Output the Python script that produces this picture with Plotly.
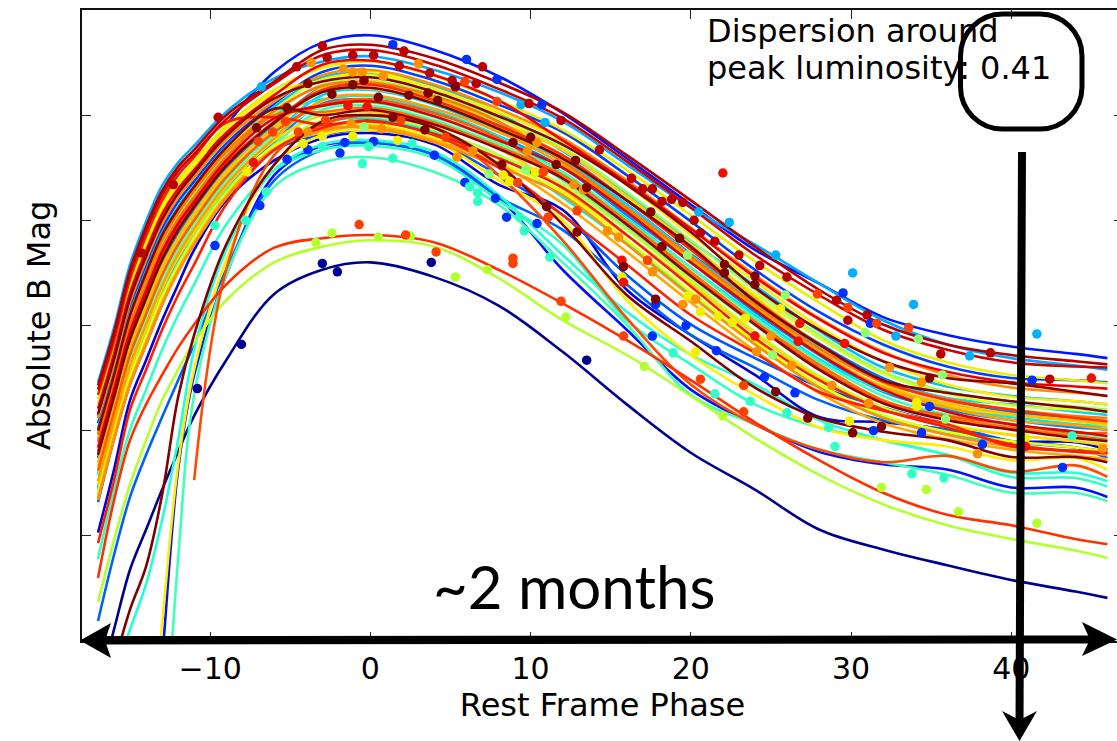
import plotly.graph_objects as go

PHASES = [-17, -16, -15, -14, -13, -12, -11, -9, -6, -3, 0, 4, 8, 12, 16, 20, 24, 28, 32, 36, 40, 44, 46]

NAVY = [-14.54, -15.11, -15.68, -16.06, -16.44, -16.80, -17.14, -17.67, -18.30, -18.53, -18.60, -18.46, -18.19, -17.75, -17.25, -16.79, -16.44, -16.06, -15.87, -15.72, -15.58, -15.47, -15.41]
BLUE_DARK = [-16.03, -16.63, -17.29, -17.67, -18.05, -18.39, -18.72, -19.19, -19.57, -19.78, -19.83, -19.72, -19.34, -19.10, -18.34, -17.91, -17.53, -17.13, -17.08, -17.01, -16.90, -16.89, -16.82]
BLUE_TOP = [-17.14, -17.66, -18.24, -18.64, -18.99, -19.24, -19.43, -19.90, -20.41, -20.69, -20.76, -20.62, -20.37, -20.02, -19.59, -19.15, -18.72, -18.40, -18.08, -17.91, -17.80, -17.73, -17.69]
BLUE_STEEP = [None, None, None, -13.02, -14.82, -16.63, -17.53, -18.48, -19.43, -19.71, -19.74, -19.62, -19.22, -18.53, -17.96, -17.39, -17.06, -16.80, -16.68, -16.63, -16.46, -16.46, -16.37]
BLUE_A = [-17.07, -17.60, -18.17, -18.57, -18.92, -19.18, -19.37, -19.73, -20.11, -20.41, -20.47, -20.33, -20.10, -19.84, -19.43, -18.99, -18.53, -18.13, -17.82, -17.61, -17.50, -17.48, -17.46]
BLUE_B = [-16.32, -16.92, -17.44, -17.82, -18.20, -18.53, -18.81, -19.29, -19.67, -19.81, -19.86, -19.75, -19.43, -19.05, -18.48, -18.01, -17.69, -17.42, -17.22, -17.06, -16.90, -16.84, -16.80]
BLUE_C = [-15.19, -15.82, -16.37, -16.77, -17.13, -17.48, -17.82, -18.53, -19.38, -19.67, -19.74, -19.62, -19.22, -18.91, -18.39, -17.91, -17.60, -17.29, -17.10, -17.01, -16.90, -16.84, -16.74]
BLUE_D = [-16.74, -17.29, -17.84, -18.23, -18.60, -18.87, -19.10, -19.50, -19.91, -20.26, -20.30, -20.15, -19.92, -19.56, -19.15, -18.68, -18.24, -17.83, -17.50, -17.30, -17.18, -17.12, -17.08]
AZURE = [-16.45, -17.03, -17.55, -17.94, -18.31, -18.61, -18.86, -19.29, -19.74, -20.11, -20.14, -20.02, -19.80, -19.50, -19.05, -18.60, -18.13, -17.72, -17.37, -17.20, -17.10, -17.03, -17.01]
CYAN_A = [-17.46, -17.98, -18.58, -18.99, -19.33, -19.55, -19.71, -20.03, -20.35, -20.51, -20.56, -20.43, -20.22, -19.94, -19.53, -19.12, -18.77, -18.40, -18.05, -17.82, -17.69, -17.62, -17.58]
CYAN_B = [-16.59, -17.15, -17.69, -18.08, -18.45, -18.74, -18.98, -19.39, -19.82, -20.19, -20.24, -20.10, -19.85, -19.57, -19.15, -18.67, -18.22, -17.80, -17.48, -17.31, -17.25, -17.18, -17.15]
CYAN_C = [-17.02, -17.56, -18.12, -18.52, -18.88, -19.13, -19.33, -19.70, -20.08, -20.36, -20.40, -20.28, -20.02, -19.66, -19.25, -18.80, -18.38, -17.95, -17.60, -17.42, -17.33, -17.28, -17.25]
CYAN_D = [-16.91, -17.45, -18.01, -18.40, -18.76, -19.03, -19.24, -19.62, -20.01, -20.15, -20.18, -20.04, -19.80, -19.45, -19.02, -18.55, -18.10, -17.68, -17.38, -17.22, -17.13, -17.06, -17.04]
CYAN_E = [-16.39, -16.96, -17.49, -17.87, -18.25, -18.55, -18.81, -19.24, -19.70, -19.93, -19.97, -19.84, -19.62, -19.22, -18.78, -18.30, -17.83, -17.42, -17.14, -16.98, -16.86, -16.80, -16.78]
TEAL_A = [-14.16, -14.63, -15.11, -15.54, -16.15, -16.91, -17.77, -18.72, -19.48, -19.72, -19.76, -19.65, -19.24, -18.67, -18.13, -17.72, -17.44, -17.10, -16.91, -16.77, -16.60, -16.60, -16.52]
TEAL_B = [-15.78, -16.44, -17.01, -17.39, -17.77, -18.10, -18.39, -18.96, -19.48, -19.67, -19.71, -19.59, -19.19, -18.77, -18.05, -17.63, -17.25, -17.03, -16.91, -16.77, -16.56, -16.55, -16.47]
TEAL_STEEP = [None, None, None, None, -13.50, -15.78, -17.34, -18.48, -19.32, -19.55, -19.60, -19.46, -19.15, -18.60, -18.01, -17.34, -17.06, -16.82, -16.70, -16.58, -16.41, -16.41, -16.33]
TEAL_C = [-16.43, -17.00, -17.53, -17.91, -18.29, -18.59, -18.85, -19.28, -19.72, -20.05, -20.09, -19.95, -19.72, -19.46, -19.00, -18.55, -18.07, -17.66, -17.33, -17.15, -17.06, -16.97, -16.94]
GREEN_B = [-16.57, -17.13, -17.67, -18.05, -18.43, -18.72, -18.96, -19.37, -19.81, -20.08, -20.12, -19.98, -19.74, -19.38, -18.93, -18.46, -18.00, -17.58, -17.27, -17.12, -17.02, -16.94, -16.92]
GREEN_A = [-16.93, -17.47, -18.03, -18.43, -18.79, -19.05, -19.26, -19.64, -20.02, -20.29, -20.33, -20.20, -19.97, -19.69, -19.27, -18.81, -18.34, -17.91, -17.56, -17.37, -17.28, -17.23, -17.20]
LIME_LOW = [-15.37, -15.96, -16.49, -16.91, -17.29, -17.58, -17.84, -18.24, -18.60, -18.75, -18.81, -18.75, -18.45, -18.05, -17.72, -17.33, -16.93, -16.58, -16.30, -16.10, -15.97, -15.86, -15.79]
LIME_A = [-16.37, -16.95, -17.47, -17.86, -18.23, -18.54, -18.80, -19.23, -19.69, -19.95, -19.99, -19.86, -19.62, -19.34, -18.91, -18.43, -17.94, -17.52, -17.22, -17.06, -16.96, -16.90, -16.87]
LIME_B = [-16.98, -17.51, -18.08, -18.48, -18.83, -19.09, -19.30, -19.67, -20.05, -20.34, -20.38, -20.25, -20.00, -19.60, -19.20, -18.74, -18.30, -17.88, -17.54, -17.35, -17.24, -17.20, -17.18]
YELLOW_A = [-17.30, -17.81, -18.40, -18.80, -19.15, -19.38, -19.56, -19.90, -20.24, -20.45, -20.51, -20.37, -20.14, -19.86, -19.48, -19.05, -18.61, -18.22, -17.86, -17.65, -17.53, -17.48, -17.45]
YELLOW_B = [-16.41, -16.98, -17.51, -17.89, -18.27, -18.57, -18.83, -19.26, -19.71, -19.88, -19.92, -19.78, -19.55, -19.27, -18.81, -18.32, -17.85, -17.44, -17.15, -16.99, -16.90, -16.84, -16.80]
YELLOW_C = [-17.25, -17.77, -18.35, -18.76, -19.10, -19.34, -19.52, -19.87, -20.21, -20.33, -20.41, -20.25, -20.03, -19.75, -19.34, -18.86, -18.42, -17.99, -17.66, -17.44, -17.32, -17.28, -17.25]
YELLOW_STEEP = [None, None, None, -13.50, -15.16, -16.68, -17.58, -18.62, -19.53, -19.81, -19.86, -19.75, -19.38, -19.00, -18.24, -17.72, -17.34, -17.03, -16.91, -16.85, -16.72, -16.74, -16.63]
GOLD_A = [-16.66, -17.22, -17.76, -18.15, -18.52, -18.80, -19.03, -19.44, -19.86, -20.26, -20.32, -20.16, -19.93, -19.67, -19.23, -18.77, -18.27, -17.82, -17.45, -17.24, -17.15, -17.09, -17.05]
GOLD_B = [-16.49, -17.06, -17.59, -17.97, -18.35, -18.65, -18.89, -19.32, -19.76, -20.00, -20.03, -19.90, -19.68, -19.30, -18.86, -18.40, -17.92, -17.50, -17.20, -17.05, -16.96, -16.90, -16.86]
AMBER = [-16.70, -17.26, -17.80, -18.19, -18.56, -18.84, -19.07, -19.47, -19.89, -20.22, -20.25, -20.12, -19.88, -19.52, -19.09, -18.62, -18.16, -17.74, -17.42, -17.26, -17.16, -17.10, -17.07]
AMBER_B = [-16.36, -16.94, -17.46, -17.84, -18.22, -18.53, -18.79, -19.23, -19.68, -19.84, -19.90, -19.76, -19.54, -19.16, -18.70, -18.22, -17.76, -17.36, -17.07, -16.92, -16.82, -16.76, -16.73]
ORANGE_A = [-16.52, -17.09, -17.62, -18.01, -18.38, -18.68, -18.92, -19.34, -19.78, -20.14, -20.19, -20.06, -19.84, -19.53, -19.10, -18.64, -18.17, -17.75, -17.41, -17.22, -17.10, -17.05, -17.01]
ORANGE_B = [-16.34, -16.92, -17.44, -17.82, -18.20, -18.51, -18.77, -19.21, -19.67, -19.86, -19.88, -19.74, -19.51, -19.24, -18.77, -18.28, -17.82, -17.41, -17.12, -16.96, -16.85, -16.80, -16.77]
ORANGE_C = [-17.12, -17.64, -18.22, -18.62, -18.97, -19.22, -19.41, -19.77, -20.13, -20.38, -20.43, -20.29, -20.06, -19.78, -19.38, -18.93, -18.48, -18.07, -17.75, -17.53, -17.41, -17.36, -17.33]
ORANGE_D = [-16.89, -17.43, -17.99, -18.38, -18.74, -19.01, -19.22, -19.60, -20.00, -20.03, -20.07, -19.93, -19.70, -19.43, -18.99, -18.51, -18.04, -17.63, -17.29, -17.12, -17.03, -16.95, -16.91]
ORANGE_E = [-16.96, -17.49, -18.06, -18.45, -18.81, -19.07, -19.28, -19.65, -20.04, -20.28, -20.31, -20.18, -19.94, -19.56, -19.12, -18.66, -18.20, -17.78, -17.46, -17.30, -17.20, -17.14, -17.12]
ORANGE_RED = [-16.62, -17.18, -17.72, -18.11, -18.48, -18.77, -19.00, -19.41, -19.84, -20.10, -20.15, -20.02, -19.78, -19.40, -18.96, -18.48, -18.02, -17.60, -17.28, -17.14, -17.06, -16.98, -16.98]
ORANGE_RED_SHORT = [None, None, None, None, None, None, -16.53, -18.53, -19.62, -19.91, -20.00, -19.88, -19.43, -18.81, -18.07, -17.44, -17.06, -16.82, -16.70, -16.76, -16.61, -16.67, -16.56]
RED_LOW = [-15.60, -16.34, -16.91, -17.25, -17.53, -17.79, -18.01, -18.39, -18.74, -18.83, -18.86, -18.79, -18.53, -18.21, -17.86, -17.48, -17.08, -16.72, -16.41, -16.20, -16.10, -15.97, -15.92]
RED_A = [-16.80, -17.34, -17.90, -18.29, -18.65, -18.93, -19.15, -19.54, -19.94, -20.24, -20.29, -20.14, -19.90, -19.62, -19.19, -18.72, -18.24, -17.82, -17.47, -17.29, -17.20, -17.12, -17.09]
RED_B = [-17.34, -17.85, -18.44, -18.85, -19.19, -19.43, -19.60, -19.93, -19.98, -19.91, -19.95, -19.82, -19.59, -19.31, -18.86, -18.37, -17.88, -17.48, -17.20, -17.03, -16.87, -16.80, -16.79]
RED_C = [-15.93, -16.53, -17.20, -17.58, -17.96, -18.29, -18.58, -19.15, -19.67, -19.88, -19.94, -19.81, -19.50, -19.05, -18.58, -18.10, -17.74, -17.37, -17.19, -17.06, -16.85, -16.81, -16.79]
RED_D = [-17.21, -17.73, -18.31, -18.71, -19.06, -19.30, -19.48, -19.83, -20.19, -20.48, -20.52, -20.38, -20.14, -19.76, -19.36, -18.92, -18.46, -18.06, -17.74, -17.56, -17.46, -17.42, -17.40]
CRIMSON_A = [-16.84, -17.39, -17.94, -18.33, -18.70, -18.97, -19.18, -19.57, -19.97, -20.09, -20.13, -19.99, -19.76, -19.50, -19.08, -18.60, -18.15, -17.73, -17.39, -17.18, -17.06, -16.99, -16.95]
CRIMSON_B = [-17.39, -17.90, -18.49, -18.90, -19.24, -19.47, -19.63, -19.96, -20.30, -20.57, -20.62, -20.48, -20.25, -19.97, -19.56, -19.12, -18.67, -18.29, -17.96, -17.77, -17.65, -17.61, -17.60]
CRIMSON_C = [-17.43, -17.94, -18.53, -18.94, -19.28, -19.51, -19.67, -20.00, -20.32, -20.62, -20.67, -20.54, -20.31, -20.03, -19.62, -19.19, -18.75, -18.34, -18.01, -17.82, -17.72, -17.66, -17.63]
MAROON_A = [-17.16, -17.68, -18.26, -18.66, -19.01, -19.26, -19.45, -19.80, -20.16, -20.32, -20.36, -20.22, -19.99, -19.72, -19.34, -18.89, -18.36, -17.96, -17.66, -17.50, -17.45, -17.37, -17.33]
MAROON_B = [-16.77, -17.32, -17.87, -18.26, -18.63, -18.91, -19.13, -19.52, -19.93, -20.22, -20.26, -20.11, -19.87, -19.59, -19.19, -18.75, -18.23, -17.82, -17.48, -17.36, -17.28, -17.22, -17.18]
MAROON_C = [-17.00, -17.53, -18.10, -18.50, -18.86, -19.11, -19.32, -19.69, -20.06, -20.00, -20.05, -19.91, -19.68, -19.40, -18.96, -18.47, -18.01, -17.58, -17.26, -17.10, -17.01, -16.93, -16.90]
MAROON_STEEP = [-14.25, -14.78, -15.30, -15.71, -16.39, -17.32, -17.91, -18.77, -19.53, -19.94, -20.00, -19.88, -19.53, -18.96, -18.29, -17.85, -17.41, -17.12, -16.99, -16.91, -16.75, -16.75, -16.70]

CURVES = [
    (NAVY, "#00008f"), (BLUE_DARK, "#0000d8"), (BLUE_TOP, "#0018ff"), (BLUE_STEEP, "#0010ff"),
    (BLUE_A, "#0040ff"), (BLUE_B, "#0058ff"), (BLUE_C, "#0060ff"), (BLUE_D, "#0070ff"), (AZURE, "#0088ff"),
    (CYAN_A, "#00aaff"), (CYAN_C, "#00c0ff"), (CYAN_B, "#00d8ff"), (CYAN_D, "#00e8f0"), (CYAN_E, "#00f0e0"),
    (TEAL_A, "#20ffd8"), (TEAL_B, "#30ffc8"), (TEAL_STEEP, "#40ffb8"), (TEAL_C, "#40ffb8"), (GREEN_B, "#60ffa0"),
    (GREEN_A, "#9aff60"), (LIME_LOW, "#b4ff30"), (LIME_A, "#c0ff30"), (LIME_B, "#d8ff20"),
    (YELLOW_A, "#e8f000"), (YELLOW_B, "#f0ff00"), (YELLOW_C, "#ffee00"), (YELLOW_STEEP, "#ffee00"),
    (GOLD_B, "#ffd800"), (GOLD_A, "#ffd000"), (AMBER, "#ffbc00"), (AMBER_B, "#ffa800"), (ORANGE_A, "#ffa000"),
    (ORANGE_B, "#ff9000"), (ORANGE_C, "#ff8c00"), (ORANGE_E, "#ff7800"), (ORANGE_D, "#ff7000"), (ORANGE_RED, "#ff5a00"),
    (ORANGE_RED_SHORT, "#ff4a00"), (RED_LOW, "#ff3000"), (RED_A, "#ff3000"), (RED_B, "#f02000"), (RED_C, "#ff2000"),
    (RED_D, "#f00000"), (CRIMSON_A, "#e00000"), (CRIMSON_B, "#d00000"), (CRIMSON_C, "#b00000"),
    (MAROON_C, "#900000"), (MAROON_A, "#8b0000"), (MAROON_B, "#800000"), (MAROON_STEEP, "#800000"),
]

DOT_NAVY_X = [-10.8, -8.05, -3.0, -2.06, 3.8, 13.5]
DOT_NAVY_Y = [-17.40, -17.82, -18.59, -18.51, -18.60, -17.67]
DOT_BLUE_X = [1.4, 6, 7.9, 10.7, -1.9, -3.9, -5.2, -1.6, 0.2, 4, -6.9, -9.7, 5.9, 7.8, 8.5, 10.4, 17.6, 17.8, 19.7, 21.6, 24.6, 26.5, 31.4, 34.4, 38.2, 43.2, 34.9, 41.3, 29.5, 31.2]
DOT_BLUE_Y = [-20.67, -20.53, -20.34, -20.10, -19.64, -19.67, -19.58, -19.74, -19.75, -19.62, -19.14, -18.76, -19.36, -19.21, -19.03, -18.97, -17.90, -18.20, -18.00, -17.76, -17.51, -17.36, -17.00, -16.98, -16.87, -16.65, -17.23, -17.48, -18.31, -18.02]
DOT_CYAN_X = [30.1, 33.9, 41.6, 22.4, 20.5, 25.3, 37.4, 32.8, -6.8, 10.9, 9.4]
DOT_CYAN_Y = [-18.50, -18.20, -17.92, -18.98, -19.08, -18.67, -17.71, -17.90, -20.27, -19.93, -20.10]
DOT_TEAL_X = [-0.5, 1.4, -0.1, -3, -6.5, -7.8, -9.7, 2.6, 11.2, 6.7, 6.2, 6.7, 9.6, 9.3, 18.9, 21.5, 23.7, 26, 29, 28.6, 33.8, 35.8, 43.8]
DOT_TEAL_Y = [-19.54, -19.59, -19.70, -19.70, -19.27, -19.00, -18.95, -19.73, -18.65, -19.18, -19.32, -19.26, -18.90, -19.03, -17.74, -17.35, -17.28, -17.17, -16.85, -17.03, -16.59, -16.55, -16.95]
DOT_GREEN_X = [19.8, 25.9, 25.1, 30.9, 35.9, 35.7, 34.2, 7.4, 9.7, -0.4]
DOT_GREEN_Y = [-18.67, -18.29, -17.72, -17.93, -17.11, -17.53, -17.87, -19.44, -19.48, -19.89]
DOT_LIME_X = [-3.4, -2.4, 0.5, 2.5, 5.3, 7.3, 12.2, 17.1, 22, 31.9, 34.7, 36.7, 41.6]
DOT_LIME_Y = [-18.79, -18.88, -18.84, -18.85, -18.46, -18.53, -18.08, -17.61, -17.14, -16.46, -16.44, -16.23, -16.12]
DOT_YELLOW_X = [-3, -1.1, 1.7, -4.2, -7.7, 8.7, 8.3, 10.3, 15.7, 20.6, 19.8, 21.7, 22.6, 23.4, 25.6, 20.3, 29.9, 34.1, 34.1, 40.9]
DOT_YELLOW_Y = [-19.80, -19.80, -19.76, -19.73, -19.46, -19.37, -19.43, -19.46, -18.46, -18.13, -18.28, -18.09, -18.03, -18.07, -18.16, -17.75, -17.09, -17.27, -17.23, -16.93]
DOT_ORANGE_X = [-3.7, 3, -1.7, -1.1, -0.5, 0.8, -1.2, 0.7, -3.9, 5.4, 6.4, 9.8, 10.4, 12.7, 13.3, 15.5, 14.8, 17.6, 20.3, 19.5, 26.3, 28.8, 31.1, 34.4, 32.4, 37.9, 45.7, 25, 24.1]
DOT_ORANGE_Y = [-20.50, -20.49, -20.44, -20.41, -20.41, -20.37, -19.92, -19.87, -19.84, -19.60, -19.66, -19.66, -19.74, -19.34, -19.29, -18.84, -18.90, -18.51, -18.25, -18.20, -17.62, -17.43, -17.26, -17.46, -17.60, -16.78, -16.83, -17.90, -17.75]
DOT_REDORANGE_X = [-0.7, 2.2, 4.1, 8.9, 8.9, 11.9, 15.8, 20.6, 23.3, 23.3, -7.0, -4.5, -6.1, -5.3, -2.8, 1.9, 4.7, 7.9, 5.9, 29.8, 31.6, 33.6, 27.9, 10.8, 9.2, 12.9, 11.1, 17.3]
DOT_REDORANGE_Y = [-18.96, -18.86, -18.70, -18.64, -18.59, -18.23, -17.90, -17.49, -17.43, -17.18, -19.75, -19.84, -19.84, -19.94, -19.95, -19.95, -19.79, -20.13, -20.32, -18.17, -18.02, -17.98, -18.30, -19.46, -19.36, -19.09, -19.03, -18.62]
DOT_RED_X = [22, -1.4, -0.2, -7.3, 15.7, 15.8, 24, 26.7, 26.8, 29.6, 40.9, 45]
DOT_RED_Y = [-19.45, -20.09, -20.08, -19.55, -18.62, -18.41, -17.90, -17.85, -18.02, -17.83, -16.85, -17.50]
DOT_CRIMSON_X = [-3, 2.1, -2.7, -1.1, 0.2, -4.6, 1.8, 3.7, -9.5, -12.3, -14.3, 7, 5.1, 6.6, 9.9, 11.9, 14.3, 16.3, 17, 17.6, 18.2, 18.8, 19.5, 20.2, 20.6, 21.5, 23, 24.3, 26, 29.1, 31, 29.8, 35.6, 38.7, 42.4]
DOT_CRIMSON_Y = [-20.66, -20.61, -20.55, -20.57, -20.57, -20.46, -20.47, -20.40, -19.98, -19.34, -18.69, -20.46, -20.33, -20.30, -20.11, -19.95, -19.67, -19.40, -19.30, -19.30, -19.18, -19.20, -19.17, -19.00, -18.88, -18.80, -18.67, -18.57, -18.46, -18.24, -18.10, -18.05, -17.73, -17.74, -17.49]
DOT_MAROON_X = [-3.9, -0.4, -1.1, -2.4, 0.5, 2.4, 3.6, 4.2, -5.2, -7.1, 1.4, 3.4, 5.3, 10, 8.9, 8.2, 12.8, 11.6, 13.5, 11, 12.9, 17.5, 15.8, 17.8, 19.3, 18.2, 22.1, 22.1, 24, 24, 34.9, 25.3, 27.3, 30.1, 31.9]
DOT_MAROON_Y = [-20.30, -20.33, -20.29, -20.20, -20.17, -20.19, -20.21, -20.14, -20.07, -19.88, -19.98, -19.86, -20.27, -19.79, -19.74, -19.53, -19.57, -19.53, -19.31, -19.13, -18.89, -19.08, -18.56, -18.25, -18.83, -18.75, -18.58, -18.50, -18.47, -18.39, -17.50, -17.37, -17.12, -16.98, -17.04]

DOTS = [
    (DOT_NAVY_X, DOT_NAVY_Y, "#00008f"), (DOT_BLUE_X, DOT_BLUE_Y, "#0030ff"), (DOT_CYAN_X, DOT_CYAN_Y, "#00b0ff"),
    (DOT_TEAL_X, DOT_TEAL_Y, "#30ffc8"), (DOT_GREEN_X, DOT_GREEN_Y, "#90ff70"), (DOT_LIME_X, DOT_LIME_Y, "#b4ff30"),
    (DOT_YELLOW_X, DOT_YELLOW_Y, "#f0f000"), (DOT_ORANGE_X, DOT_ORANGE_Y, "#ff9000"), (DOT_REDORANGE_X, DOT_REDORANGE_Y, "#ff4000"),
    (DOT_RED_X, DOT_RED_Y, "#f01000"), (DOT_CRIMSON_X, DOT_CRIMSON_Y, "#b80000"), (DOT_MAROON_X, DOT_MAROON_Y, "#800000"),
]

TICK_PHASES = [-10, 0, 10, 20, 30, 40]
TICK_MAGS = [-20, -19, -18, -17, -16]

FIG_W, FIG_H = 1123, 741
LEFT, TOP, BOTTOM = 82, 10, 641
FONT = "DejaVu Sans"

fig = go.Figure()
for values, colour in CURVES:
    fig.add_trace(go.Scatter(x=PHASES, y=values, mode="lines", connectgaps=False,
                             line=dict(color=colour, width=2.6, shape="spline", smoothing=1),
                             hoverinfo="skip", showlegend=False))
for xs, ys, colour in DOTS:
    fig.add_trace(go.Scatter(x=xs, y=ys, mode="markers",
                             marker=dict(color=colour, size=9.5, line=dict(width=0)),
                             hoverinfo="skip", showlegend=False))


def px(x):
    return (x - LEFT) / (FIG_W - LEFT)


def py(y):
    return 1 - (y - TOP) / (BOTTOM - TOP)


def poly(points):
    return "M " + " L ".join(f"{px(a):.5f},{py(b):.5f}" for a, b in points) + " Z"


def box(x0, y0, x1, y1, r):
    k = r * 0.45
    seq = [
        ("M", (x0 + r, y0)), ("L", (x1 - r, y0)),
        ("C", (x1 - k, y0), (x1, y0 + k), (x1, y0 + r)), ("L", (x1, y1 - r)),
        ("C", (x1, y1 - k), (x1 - k, y1), (x1 - r, y1)), ("L", (x0 + r, y1)),
        ("C", (x0 + k, y1), (x0, y1 - k), (x0, y1 - r)), ("L", (x0, y0 + r)),
        ("C", (x0, y0 + k), (x0 + k, y0), (x0 + r, y0)),
    ]
    out = []
    for item in seq:
        out.append(item[0] + " " + " ".join(f"{px(a):.5f},{py(b):.5f}" for a, b in item[1:]))
    return " ".join(out) + " Z"


def solid(path):
    return dict(type="path", xref="paper", yref="paper", path=path,
                fillcolor="black", line=dict(color="black", width=0), layer="above")


shapes = [
    solid(poly([(95, 636), (1100, 635.5), (1100, 643.5), (95, 644.5)])),
    solid(poly([(80, 640.5), (111, 623), (105, 640.5), (111, 658)])),
    solid(poly([(1117, 639.5), (1082, 622), (1090, 639.5), (1082, 656)])),
    solid(poly([(1018, 152), (1026, 152), (1023.5, 725), (1015.5, 725)])),
    solid(poly([(1019.5, 741), (1002, 711), (1019.5, 720), (1037, 711)])),
    dict(type="path", xref="paper", yref="paper", path=box(960.5, 14, 1082, 129, 42),
         fillcolor="rgba(0,0,0,0)", line=dict(color="black", width=5), layer="above"),
]

axis_common = dict(showgrid=False, zeroline=False, showline=True, linecolor="#111111", linewidth=2,
                   mirror="ticks", ticks="inside", ticklen=9, tickwidth=1.2, tickcolor="#222222",
                   tickfont=dict(family=FONT, size=30, color="black"), automargin=False)

fig.update_layout(
    width=FIG_W, height=FIG_H, autosize=False,
    margin=dict(l=LEFT, r=0, t=TOP, b=FIG_H - BOTTOM, pad=0),
    paper_bgcolor="white", plot_bgcolor="white", showlegend=False,
    xaxis=dict(range=[-18, (FIG_W - 370) / 16.03], tickvals=TICK_PHASES,
               title=dict(text="Rest Frame Phase", font=dict(family=FONT, size=32, color="black"), standoff=6),
               **axis_common),
    yaxis=dict(range=[-15, -21], tickvals=TICK_MAGS, showticklabels=False,
               title=dict(text="Absolute B Mag", font=dict(family=FONT, size=32, color="black"), standoff=20),
               **axis_common),
    shapes=shapes,
    annotations=[
        dict(xref="paper", yref="paper", x=px(705), y=py(31), xanchor="left", yanchor="middle",
             text="Dispersion around", showarrow=False, font=dict(family=FONT, size=32, color="black")),
        dict(xref="paper", yref="paper", x=px(705), y=py(68), xanchor="left", yanchor="middle",
             text="peak luminosity: 0.41", showarrow=False, font=dict(family=FONT, size=32, color="black")),
        dict(xref="paper", yref="paper", x=px(574), y=py(586), xanchor="center", yanchor="middle",
             text="~2 months", showarrow=False, font=dict(family="Lato", size=60, color="black")),
    ],
)

fig.write_html("out.html", config={"displayModeBar": False},
               post_script="document.body.style.margin='0';document.documentElement.style.overflow='hidden';document.body.style.overflow='hidden';")
